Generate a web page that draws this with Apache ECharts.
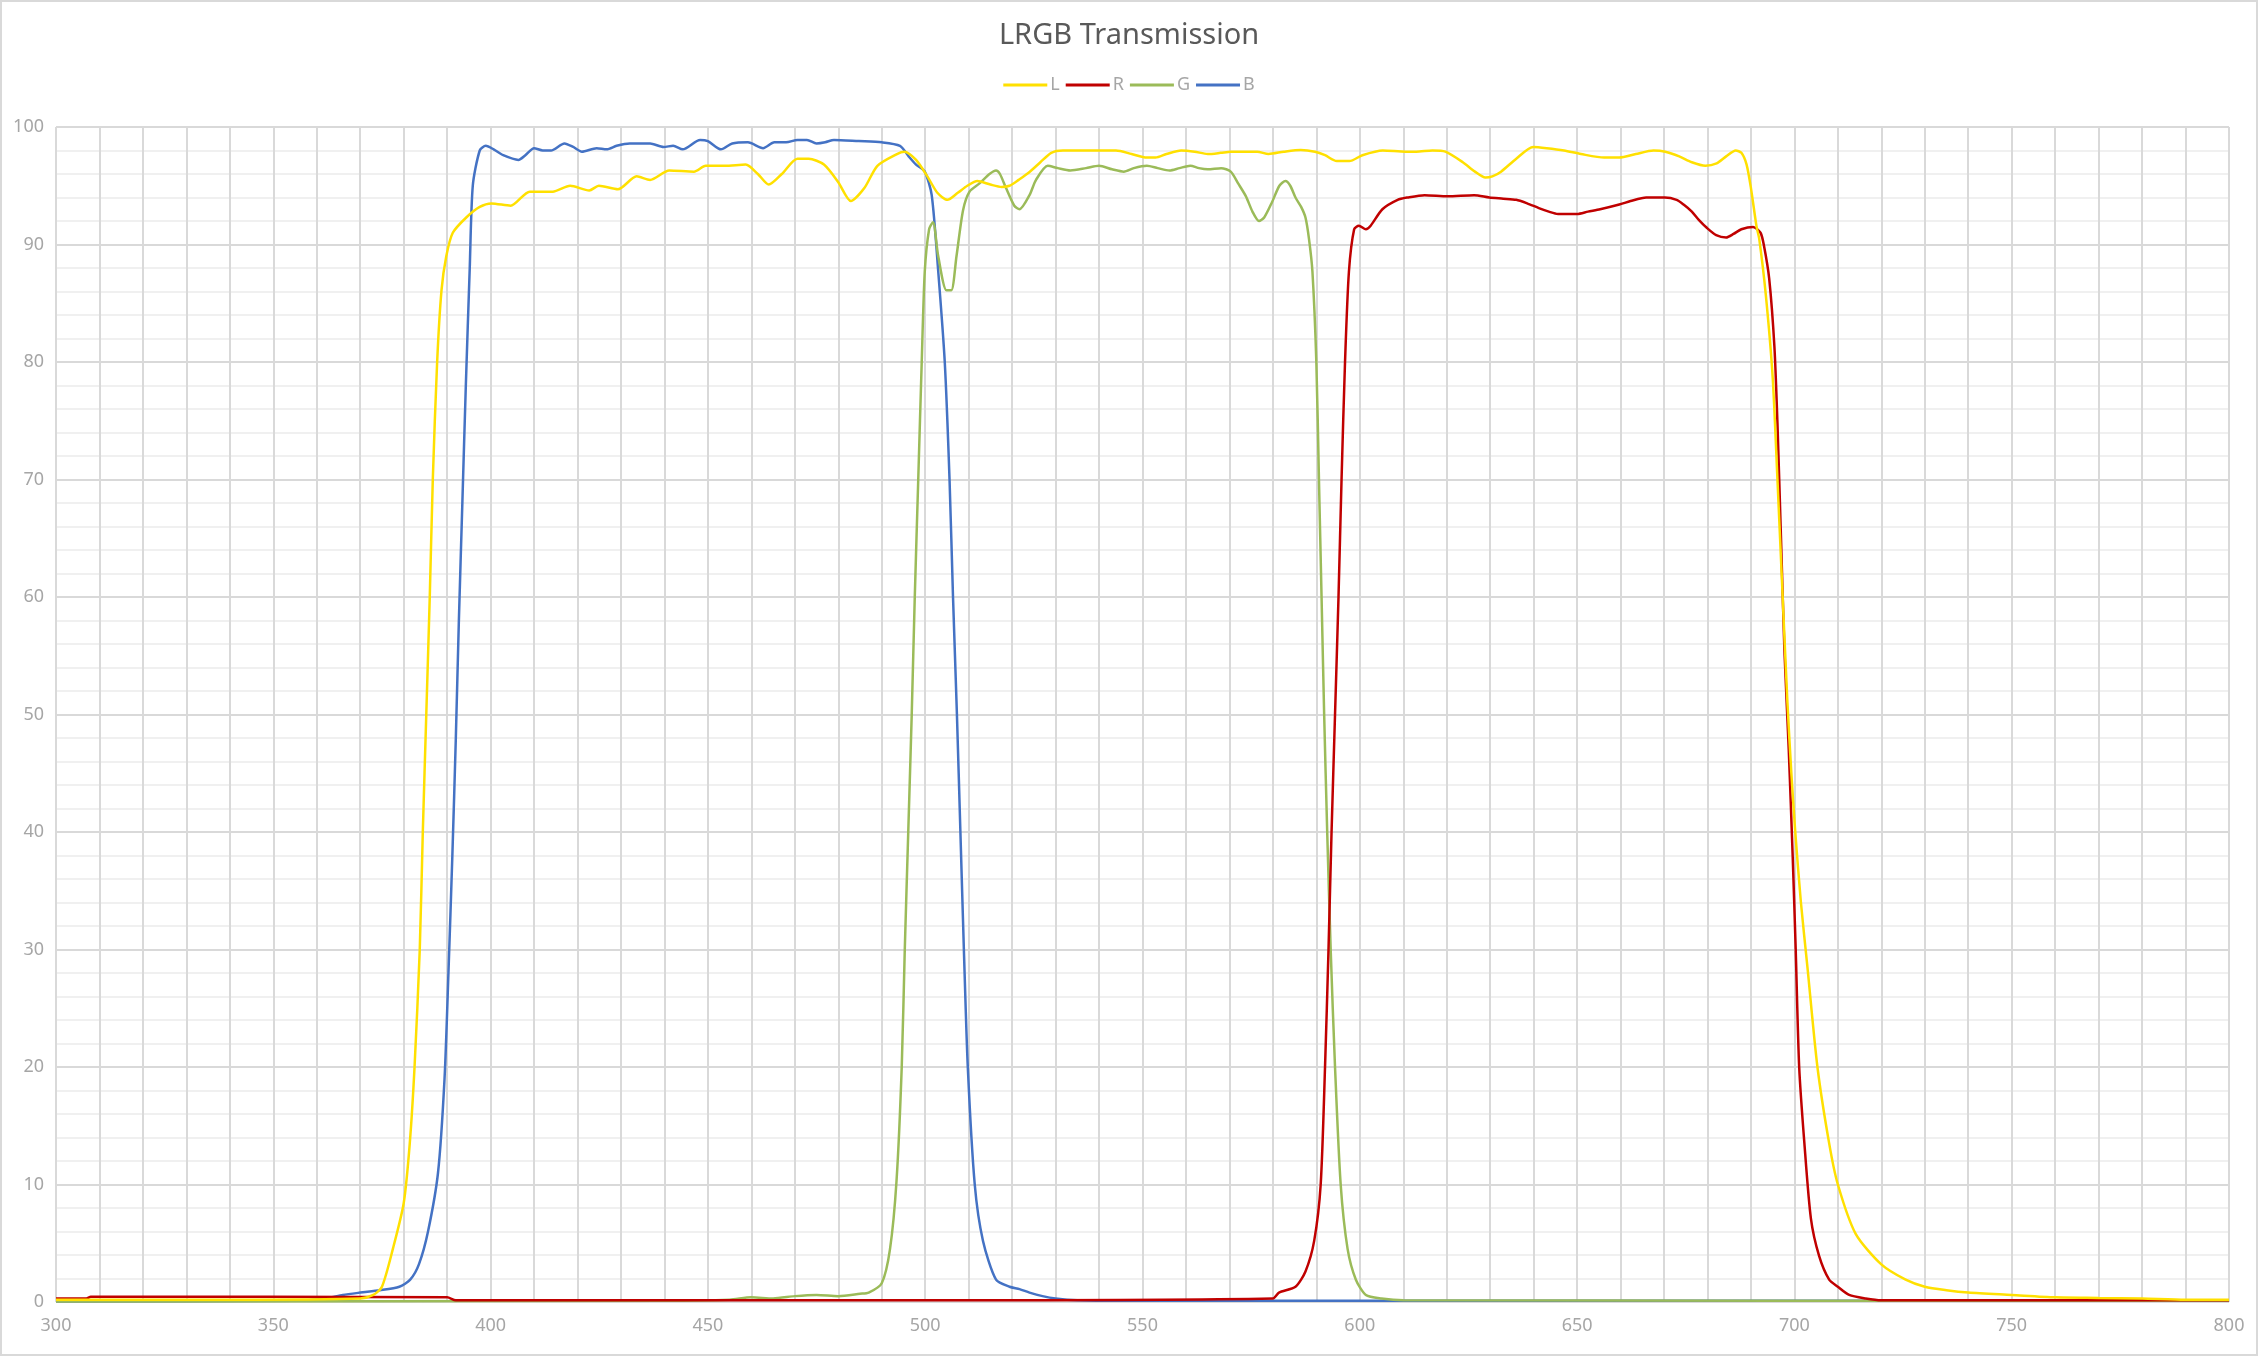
<!DOCTYPE html>
<html>
<head>
<meta charset="utf-8">
<script src="https://cdn.jsdelivr.net/npm/echarts@6/dist/echarts.min.js"></script>
<style>
html,body{margin:0;padding:0;background:#fff;}
#c{width:2258px;height:1356px;position:relative;}
#frame{position:absolute;left:0;top:0;width:2258px;height:1356px;box-sizing:border-box;border:2px solid #d9d9d9;pointer-events:none;}
</style>
</head>
<body>
<div id="c"></div>
<div id="frame"></div>
<script>
// ---- Data (wavelength nm / transmission %) ----
const L_nm  = [300,340,370,373,375,377.5,380,381.4,382.5,383.7,384.4,385.2,386,386.7,387.7,388.7,389.8,391.3,394.4,397.5,400.2,404.6,409,414.3,418.3,422.7,424.9,429.3,433.6,436.7,441.1,446.8,449.5,453.9,458.7,461.5,464,467,470.6,473.2,476.7,480,482.9,486,489,493.5,495.2,497.9,500.5,502.8,505.1,507.5,509.7,512,515,517.6,519.4,521.5,523.8,526.5,529,531.7,536,540,543.9,547.5,551,553,555.5,558.9,562,565,568,570.3,573.5,576.4,579,582.5,586.4,589.7,592,594.7,597.6,600.6,605.3,610.5,613,616.7,619.7,623.7,626.5,628.9,630.5,632.5,636,639.9,643,647,650.9,656.2,659.7,663.5,667.6,670.3,673.5,676.4,679.5,682.1,684.3,686.5,687.8,689,690,691.3,691.9,693.4,695,696.1,697.3,698.4,699.3,700.2,701.5,703,705.3,708,710,714.1,720,725.6,730,735,740,750,760,770,780,790,800];
const L_val = [0.2,0.2,0.3,0.6,1.3,4.5,8.4,13.5,20,30,40,50,60,70,80,86.1,89,91,92.3,93.2,93.5,93.3,94.5,94.5,95,94.6,95,94.7,95.8,95.5,96.3,96.2,96.7,96.7,96.8,96.0,95.1,96.0,97.3,97.3,96.8,95.3,93.7,94.8,96.7,97.7,97.9,97.2,95.8,94.4,93.8,94.4,95.0,95.4,95.1,94.9,95.0,95.5,96.1,97.0,97.8,98.0,98.0,98.0,98.0,97.7,97.4,97.4,97.7,98.0,97.9,97.7,97.8,97.9,97.9,97.9,97.7,97.9,98.05,97.9,97.6,97.1,97.1,97.6,98.0,97.9,97.9,98.0,97.9,97.0,96.2,95.7,95.8,96.2,97.3,98.3,98.2,98.0,97.7,97.4,97.4,97.7,98.0,97.9,97.5,97.0,96.7,96.9,97.5,98.0,97.8,96.8,94.8,91.5,90.5,85.8,78.7,70,60,51,45,40,34,28.5,20,13.5,10,5.8,3.2,1.9,1.3,1.0,0.8,0.6,0.4,0.35,0.3,0.2,0.2];

const R_nm  = [300,307,308,390,392,500,580,581.4,585.2,587.5,589.5,591,592,592.8,593.5,594.3,595.1,595.8,596.6,597.5,598.7,599.8,601.4,602.5,605.2,608.7,611,614.9,620.2,626.3,629.8,633,636,638.5,641.2,643.5,645.6,650,652.5,655.3,659.7,662.3,665.9,670.2,672.9,674.5,676.4,678,679.9,682,684.3,686,687.8,690.5,692.2,693,694.2,695.4,696.1,696.9,697.7,698.7,699.6,700.3,701.1,702.3,703.8,705.7,708,710,712.6,716.4,720,800];
const R_val = [0.3,0.3,0.45,0.4,0.15,0.15,0.3,0.8,1.3,2.6,5.2,10,20,30,40,50,60,70,80,87.7,91.3,91.6,91.3,91.6,93.0,93.8,94.0,94.2,94.1,94.2,94.0,93.9,93.8,93.5,93.1,92.8,92.6,92.6,92.8,93.0,93.4,93.7,94.0,94.0,93.8,93.4,92.8,92.1,91.4,90.8,90.6,90.9,91.3,91.5,91.0,89.9,87.1,81.3,74.8,65.2,55.5,47,38,30,20,13.5,7.1,3.9,1.9,1.3,0.6,0.3,0.15,0.15];

const G_nm  = [300,440,455,460,465,470,475,480,485,487,490,491.9,493.4,494.6,495.3,496.1,496.9,497.6,498.4,499.2,499.9,500.9,501.8,503,504.9,506,507.2,508.7,510.2,512.5,514.8,516.3,517.2,518.6,520.5,521.7,524,525.5,528.2,530.5,533.4,537,540,543,545.7,548,551,553.5,556.2,558.5,561,563,565,568.1,570.3,572,573.8,575.3,576.8,578,579.8,581.5,582.9,584,585.2,586.5,587.5,588.3,589.1,590,590.6,591.2,591.8,592.5,593.3,594.3,595.6,597.2,599.1,601.4,605,610,800];
const G_val = [0.05,0.1,0.2,0.4,0.3,0.5,0.6,0.5,0.7,0.8,1.6,4.5,10.3,20,30,40,50,60,70,80,87.7,91.3,91.9,89,86.1,86.1,89,92.9,94.5,95.2,96,96.3,96.0,94.8,93.3,93.0,94.2,95.5,96.7,96.5,96.3,96.5,96.7,96.4,96.2,96.5,96.7,96.5,96.3,96.5,96.7,96.5,96.4,96.5,96.2,95.2,94.1,92.8,92.0,92.3,93.6,95.0,95.4,95.0,94.0,93.2,92.3,90.5,87.7,80,70,60,50,40,30,20,10,4.5,1.9,0.6,0.3,0.15,0.1];

const B_nm  = [300,355,362,366,370,374.5,379,381.5,383.5,385.6,387.9,389.4,390.3,391.2,392,392.7,393.5,394.3,395.2,395.9,397.5,398.9,400.7,402.9,406.4,408,410,412,413.9,417,419,421,424.4,426.7,429,432,436.7,439.8,442,444.2,448.2,450,453,455.6,459.2,462.7,465.3,468,470.6,472.8,475,477,479,484.7,490,494.2,496.2,497.9,499.9,501.5,503,504.5,505.6,506.4,507.3,508.1,508.9,509.8,511.4,513.3,516.3,519.4,521.7,524,527,530,535,545,800];
const B_val = [0.05,0.1,0.3,0.6,0.8,1.0,1.3,1.9,3.2,6.0,11,19,28,38,48,58,68,78,88,95.0,98,98.4,98.1,97.6,97.2,97.6,98.2,98.0,98.0,98.6,98.3,97.9,98.2,98.1,98.4,98.6,98.6,98.3,98.4,98.1,98.9,98.8,98.1,98.6,98.7,98.2,98.7,98.7,98.9,98.9,98.6,98.7,98.9,98.8,98.7,98.4,97.5,96.8,96.2,94.2,87.7,80,70,60,50,40,30,20,10,5.2,1.9,1.3,1.1,0.8,0.5,0.3,0.15,0.1,0.1];

const seriesNames  = ['L','R','G','B'];
const seriesColors = ['#FFE000','#C00000','#9BBB59','#4472C4'];
const xTicks = [300,350,400,450,500,550,600,650,700,750,800];
const yTicks = [0,10,20,30,40,50,60,70,80,90,100];

function zip(xs, ys){ return xs.map((x,i)=>[x, ys[i]]); }
const seriesData = [zip(L_nm,L_val), zip(R_nm,R_val), zip(G_nm,G_val), zip(B_nm,B_val)];

const FONT = "'Noto Sans', 'Open Sans', sans-serif";
const chart = echarts.init(document.getElementById('c'), null, {renderer:'canvas'});
chart.setOption({
  animation:false,
  backgroundColor:'#ffffff',
  title:{
    text:'LRGB Transmission', left:'center', top:16,
    textStyle:{fontFamily:FONT, fontSize:29, fontWeight:'normal', color:'#595959'}
  },
  legend:{
    data:seriesNames, top:71, left:'center',
    icon:'rect', itemWidth:44, itemHeight:3, itemGap:6,
    textStyle:{fontFamily:FONT, fontSize:18, color:'#a6a6a6', padding:[0,0,0,-2]}
  },
  grid:{left:56, right:29, top:127, bottom:54, containLabel:false},
  xAxis:{
    type:'value', min:xTicks[0], max:xTicks[xTicks.length-1], interval:50,
    axisLine:{show:false}, axisTick:{show:false},
    axisLabel:{fontFamily:FONT, fontSize:18, color:'#a6a6a6', margin:15},
    splitLine:{show:true, lineStyle:{color:'#d9d9d9', width:2}},
    minorTick:{show:false, splitNumber:5},
    minorSplitLine:{show:true, lineStyle:{color:'#d9d9d9', width:2}}
  },
  yAxis:{
    type:'value', min:yTicks[0], max:yTicks[yTicks.length-1], interval:10,
    axisLine:{show:false}, axisTick:{show:false},
    axisLabel:{fontFamily:FONT, fontSize:18, color:'#a6a6a6', margin:12},
    splitLine:{show:true, lineStyle:{color:'#d9d9d9', width:2}},
    minorTick:{show:false, splitNumber:5},
    minorSplitLine:{show:true, lineStyle:{color:'#f0f0f0', width:2}}
  },
  series: seriesNames.map((n,i)=>({
    name:n, type:'line', data:seriesData[i],
    showSymbol:false, symbol:'none', smooth:0.25,
    lineStyle:{color:seriesColors[i], width:2.5},
    itemStyle:{color:seriesColors[i]},
    z: 10 - i
  }))
});
</script>
</body>
</html>
